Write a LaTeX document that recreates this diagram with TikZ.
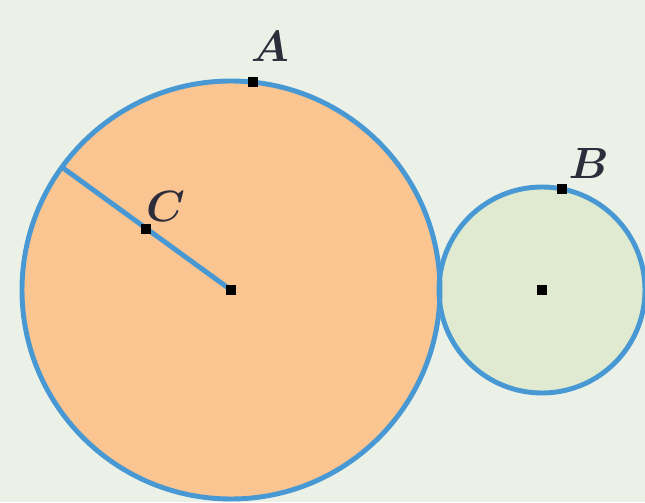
\documentclass[tikz,border=0pt]{standalone}
\usepackage{tikz}
\usetikzlibrary{calc}
\usepackage{xcolor}
\usepackage{bm}
\definecolor{bgpale}{RGB}{236,241,232}
\definecolor{rimblue}{RGB}{72,152,212}
\definecolor{peach}{RGB}{250,197,145}
\definecolor{palegreen}{RGB}{224,234,208}
\definecolor{labelgray}{RGB}{45,45,60}
\tikzset{
  rim/.style    = {draw=rimblue,line width=2.8pt},
  dot/.style    = {rectangle,fill=black,inner sep=0pt,minimum size=0.2cm},
  lbl/.style    = {font=\fontsize{23}{27}\selectfont,text=labelgray},
}

\begin{document}
\begin{tikzpicture}
  \fill[bgpale] (0,0) rectangle (12.9,10.04);
  \useasboundingbox (0,0) rectangle (12.9,10.04);
  \coordinate (O1) at (4.62,4.24);
  \coordinate (O2) at (10.84,4.24);
  \fill[peach] (O1) circle (4.18);
  \fill[palegreen] (O2) circle (2.06);
  \draw[rim] (O1) circle (4.18);
  \draw[rim] (O2) circle (2.06);
  \coordinate (E) at ($(O1)+(144:4.18)$);
  \draw[rim] (E) -- (O1);
  \node[dot] (c1) at (O1) {};
  \node[dot] (c2) at (O2) {};
  \node[dot] (A) at ($(O1)+(84:4.18)$) {};
  \node[dot] (B) at ($(O2)+(79:2.06)$) {};
  \node[dot] (C) at ($(O1)!0.5!(E)$) {};
  \node[lbl] (lA) at ($(A)+(0.34,0.72)$) {$\bm{A}$};
  \node[lbl] (lB) at ($(B)+(0.54,0.5)$) {$\bm{B}$};
  \node[lbl] (lC) at ($(C)+(0.38,0.45)$) {$\bm{C}$};
\end{tikzpicture}
\end{document}
